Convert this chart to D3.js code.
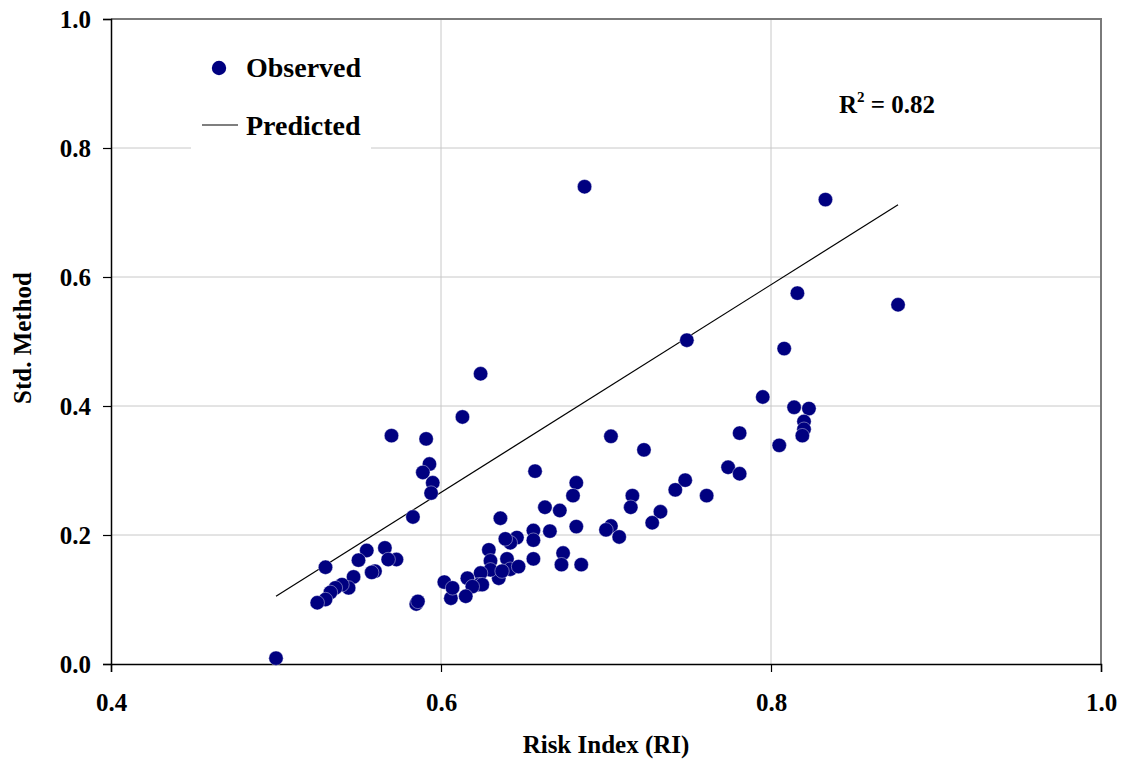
<!DOCTYPE html>
<html>
<head>
<meta charset="utf-8">
<script src="https://cdn.jsdelivr.net/npm/d3@7"></script>
<style>
  html, body { margin: 0; padding: 0; background: #ffffff; }
  svg { display: block; }
  text { font-family: "Times New Roman", "Liberation Serif", serif; font-weight: bold; fill: #000; }
</style>
</head>
<body>
<div id="chart"></div>
<script>
// Observed points (Risk Index vs Std. Method)
const riskIndex = [
  0.500, 0.570, 0.591, 0.593, 0.589, 0.595, 0.594, 0.583, 0.613, 0.566,
  0.555, 0.550, 0.573, 0.568, 0.530, 0.560, 0.558, 0.547, 0.544, 0.540,
  0.536, 0.533, 0.530, 0.525, 0.585, 0.586, 0.602, 0.606, 0.607, 0.624,
  0.687, 0.703, 0.723, 0.657, 0.682, 0.680, 0.716, 0.715, 0.663, 0.672,
  0.636, 0.682, 0.703, 0.700, 0.708, 0.656, 0.656, 0.666, 0.646, 0.642,
  0.639, 0.629, 0.630, 0.674, 0.673, 0.685, 0.656, 0.640, 0.642, 0.647,
  0.635, 0.630, 0.624, 0.623, 0.625, 0.616, 0.619, 0.615, 0.637, 0.749,
  0.808, 0.795, 0.814, 0.781, 0.805, 0.774, 0.781, 0.748, 0.742, 0.761,
  0.733, 0.728, 0.833, 0.877, 0.816, 0.823, 0.820, 0.820, 0.819
];
const stdMethod = [
  0.009, 0.354, 0.349, 0.310, 0.297, 0.281, 0.265, 0.228, 0.383, 0.180,
  0.176, 0.161, 0.162, 0.162, 0.150, 0.144, 0.142, 0.135, 0.118, 0.123,
  0.118, 0.111, 0.100, 0.095, 0.093, 0.097, 0.127, 0.102, 0.118, 0.450,
  0.740, 0.353, 0.332, 0.299, 0.281, 0.261, 0.261, 0.243, 0.243, 0.238,
  0.226, 0.213, 0.214, 0.208, 0.197, 0.207, 0.192, 0.206, 0.196, 0.188,
  0.194, 0.177, 0.160, 0.172, 0.154, 0.154, 0.163, 0.163, 0.147, 0.151,
  0.133, 0.146, 0.141, 0.123, 0.123, 0.133, 0.120, 0.105, 0.144, 0.502,
  0.489, 0.414, 0.398, 0.358, 0.339, 0.305, 0.295, 0.285, 0.270, 0.261,
  0.236, 0.219, 0.720, 0.557, 0.575, 0.396, 0.376, 0.364, 0.354
];

// Predicted (fitted) line end points
const predictedX = [0.500, 0.877];
const predictedY = [0.105, 0.712];

const xTicks = [0.4, 0.6, 0.8, 1.0];
const yTicks = [0.0, 0.2, 0.4, 0.6, 0.8, 1.0];
const rSquared = '0.82';

const W = 1126, H = 761;
const plot = { left: 111, right: 1101, top: 19, bottom: 664 };

const svg = d3.select('#chart').append('svg')
  .attr('width', W)
  .attr('height', H);

const x = d3.scaleLinear().domain([0.4, 1.0]).range([plot.left, plot.right]);
const y = d3.scaleLinear().domain([0, 1.0]).range([plot.bottom, plot.top]);

// gridlines
svg.append('g')
  .selectAll('line.hgrid')
  .data(yTicks.filter(v => v > 0 && v < 1))
  .join('line')
  .attr('x1', plot.left).attr('x2', plot.right)
  .attr('y1', d => y(d)).attr('y2', d => y(d))
  .attr('stroke', '#c8c8c8').attr('stroke-width', 1);

svg.append('g')
  .selectAll('line.vgrid')
  .data(xTicks.filter(v => v > 0.4 && v < 1))
  .join('line')
  .attr('x1', d => x(d)).attr('x2', d => x(d))
  .attr('y1', plot.top).attr('y2', plot.bottom)
  .attr('stroke', '#c8c8c8').attr('stroke-width', 1);

// plot frame (top / right in grey)
svg.append('path')
  .attr('d', `M${plot.left},${plot.top}H${plot.right}V${plot.bottom}`)
  .attr('fill', 'none')
  .attr('stroke', '#7a7a7a')
  .attr('stroke-width', 2);

// axes
const xAxis = d3.axisBottom(x).tickValues(xTicks).tickSize(8).tickFormat(d3.format('.1f'));
const yAxis = d3.axisLeft(y).tickValues(yTicks).tickSize(8).tickFormat(d3.format('.1f'));

const gx = svg.append('g')
  .attr('transform', `translate(0,${plot.bottom})`)
  .call(xAxis);
gx.select('.domain').attr('stroke', '#000').attr('stroke-width', 1.5);
gx.selectAll('.tick line').attr('stroke', '#000').attr('stroke-width', 1.2);
gx.selectAll('.tick text')
  .attr('font-size', 25)
  .attr('font-family', '"Times New Roman", "Liberation Serif", serif')
  .attr('font-weight', 'bold')
  .attr('fill', '#000')
  .attr('dy', null)
  .attr('y', 47);

const gy = svg.append('g')
  .attr('transform', `translate(${plot.left},0)`)
  .call(yAxis);
gy.select('.domain').attr('stroke', '#000').attr('stroke-width', 1.5);
gy.selectAll('.tick line').attr('stroke', '#000').attr('stroke-width', 1.2);
gy.selectAll('.tick text')
  .attr('font-size', 25)
  .attr('font-family', '"Times New Roman", "Liberation Serif", serif')
  .attr('font-weight', 'bold')
  .attr('fill', '#000')
  .attr('x', -20)
  .attr('dy', '0.34em');

// predicted line
const linePts = predictedX.map((v, i) => [v, predictedY[i]]);
svg.append('path')
  .datum(linePts)
  .attr('d', d3.line().x(d => x(d[0])).y(d => y(d[1])))
  .attr('fill', 'none')
  .attr('stroke', '#000')
  .attr('stroke-width', 1.2);

// observed points
const points = riskIndex.map((v, i) => ({ ri: v, sm: stdMethod[i] }));
svg.append('g')
  .selectAll('circle')
  .data(points)
  .join('circle')
  .attr('cx', d => x(d.ri))
  .attr('cy', d => y(d.sm))
  .attr('r', 7.2)
  .attr('fill', '#000080')
  .attr('stroke', '#ffffff')
  .attr('stroke-width', 0.4);

// legend
const legend = svg.append('g');
legend.append('rect')
  .attr('x', 191).attr('y', 40)
  .attr('width', 180).attr('height', 110)
  .attr('fill', '#ffffff');
legend.append('circle')
  .attr('cx', 219).attr('cy', 68)
  .attr('r', 7.2)
  .attr('fill', '#000080');
legend.append('text')
  .attr('x', 246).attr('y', 77)
  .attr('font-size', 28)
  .text('Observed');
legend.append('line')
  .attr('x1', 202).attr('x2', 238)
  .attr('y1', 125).attr('y2', 125)
  .attr('stroke', '#000').attr('stroke-width', 1.2);
legend.append('text')
  .attr('x', 246).attr('y', 135)
  .attr('font-size', 28)
  .text('Predicted');

// R squared annotation
const r2 = svg.append('text')
  .attr('x', 839).attr('y', 113)
  .attr('font-size', 25);
r2.append('tspan').text('R');
r2.append('tspan').attr('font-size', 15).attr('dy', -11).text('2');
r2.append('tspan').attr('dy', 11).text(' = ' + rSquared);

// axis titles
svg.append('text')
  .attr('x', (plot.left + plot.right) / 2)
  .attr('y', 753)
  .attr('text-anchor', 'middle')
  .attr('font-size', 25)
  .text('Risk Index (RI)');

svg.append('text')
  .attr('transform', 'translate(31,338) rotate(-90)')
  .attr('text-anchor', 'middle')
  .attr('font-size', 25)
  .text('Std. Method');
</script>
</body>
</html>
